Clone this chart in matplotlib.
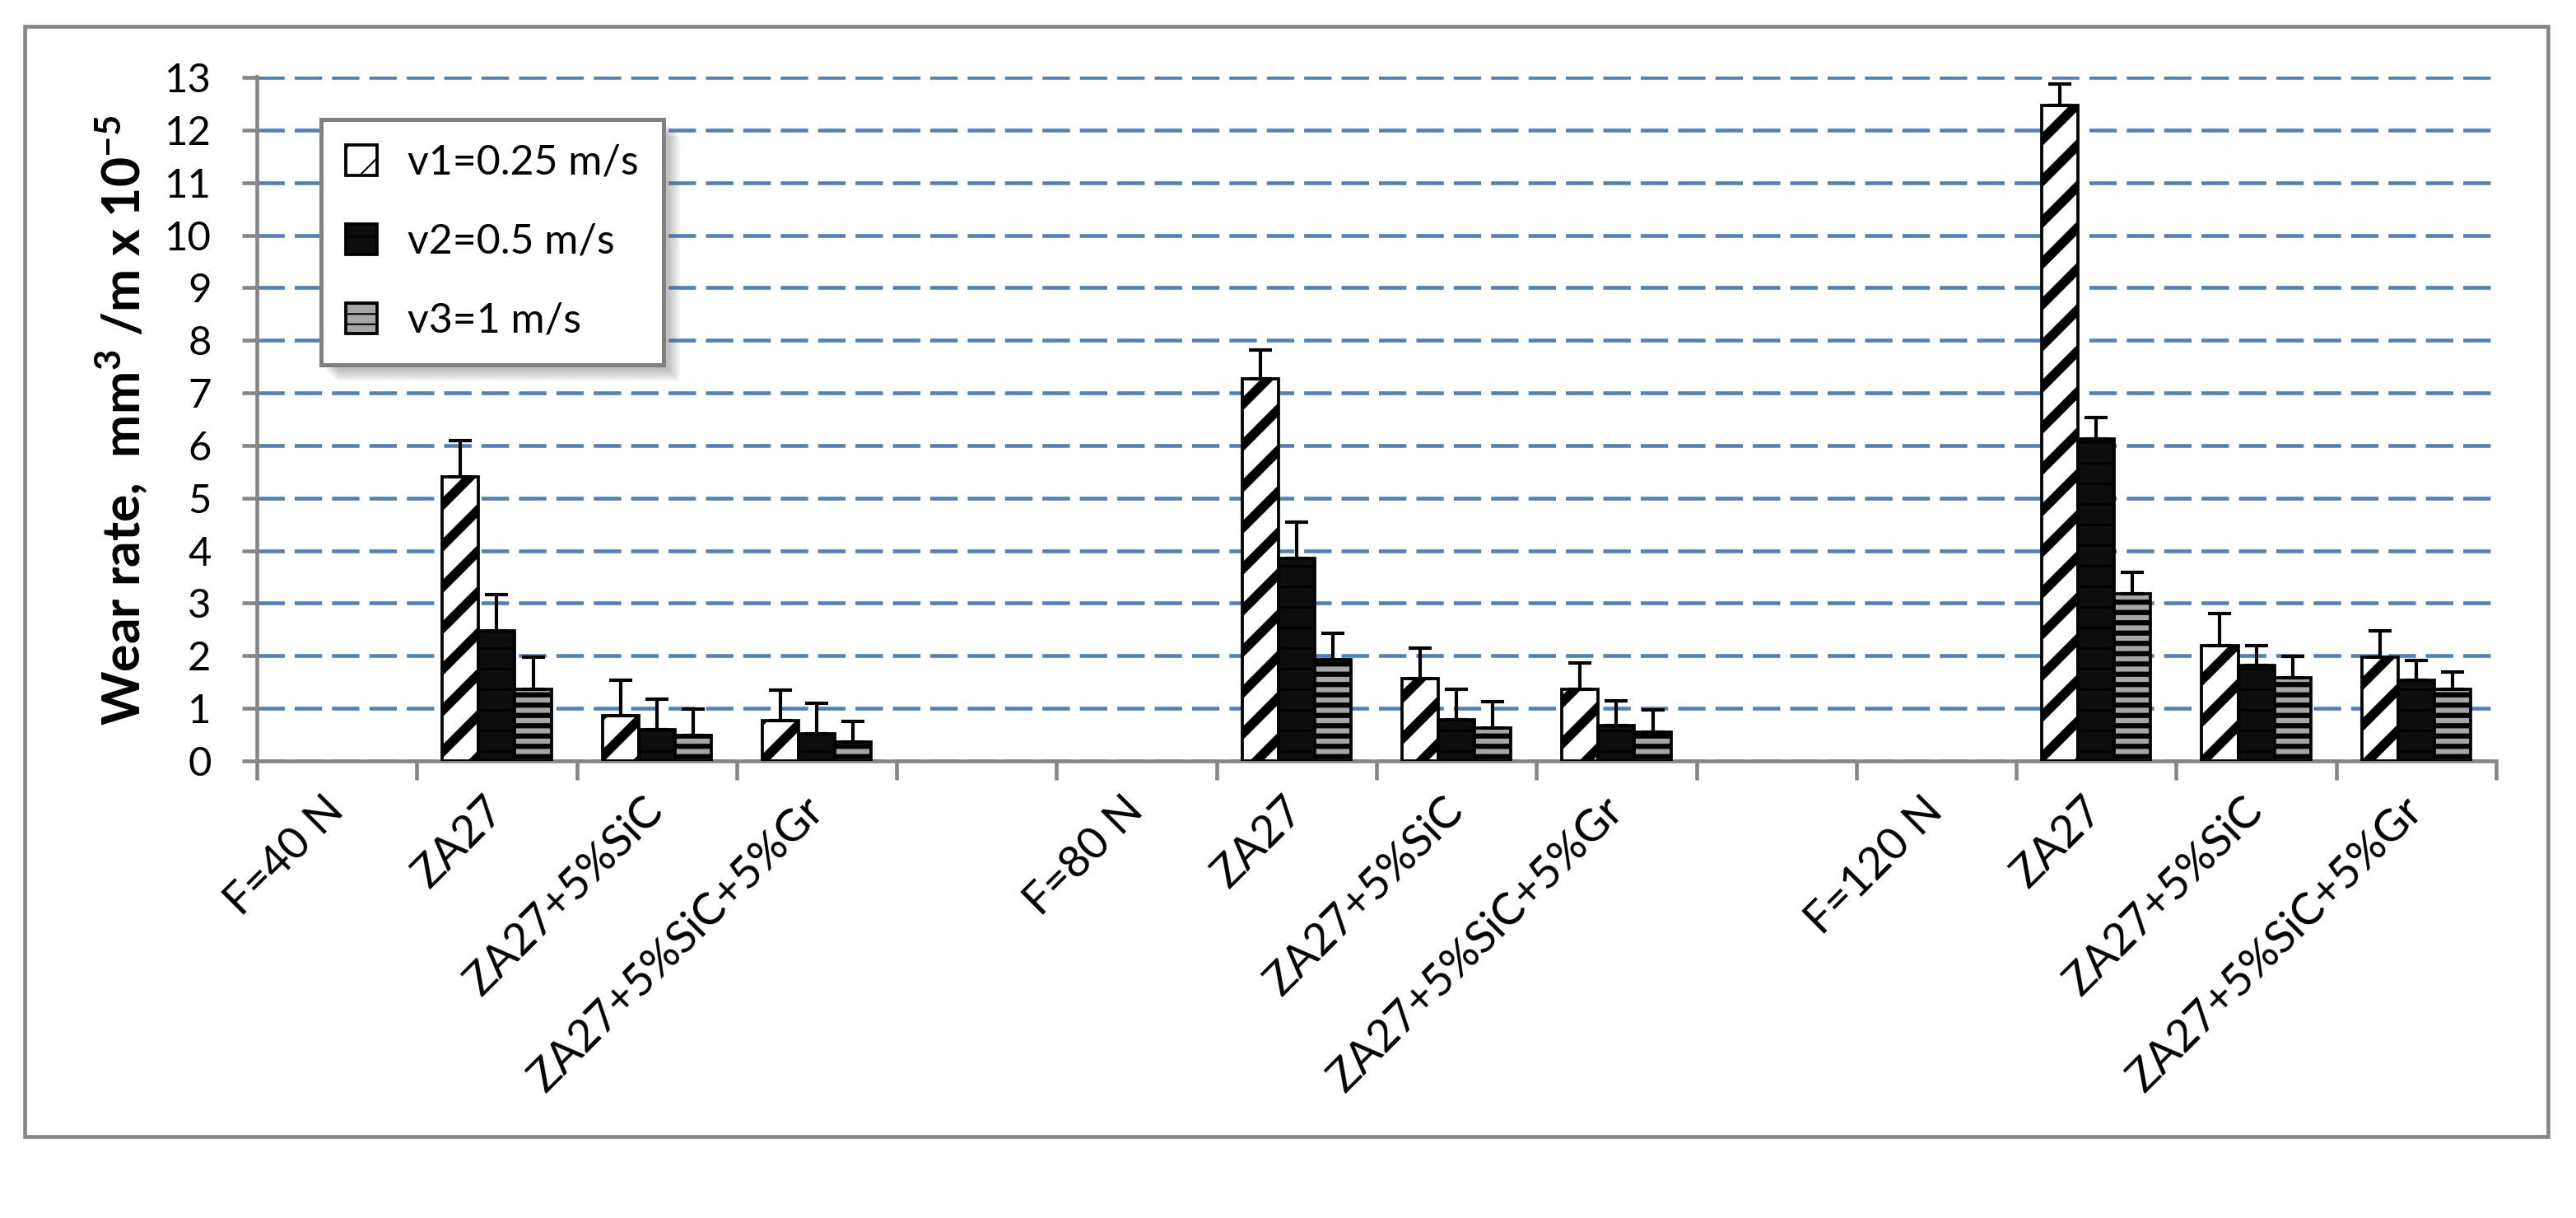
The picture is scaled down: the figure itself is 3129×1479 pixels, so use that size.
import numpy as np
import matplotlib
matplotlib.use("Agg")
import matplotlib.pyplot as plt
from matplotlib.patches import Rectangle

# Data (wear rate, mm3/m x 1e-5), order: per load -> ZA27, +SiC, +SiC+Gr
loads = ["F=40 N", "F=80 N", "F=120 N"]
materials = ["ZA27", "ZA27+5%SiC", "ZA27+5%SiC+5%Gr"]
series_names = ["v1=0.25 m/s", "v2=0.5 m/s", "v3=1 m/s"]

v1 = [5.40, 0.86, 0.76, 7.26, 1.56, 1.37, 12.47, 2.20, 1.98]
v2 = [2.47, 0.60, 0.52, 3.85, 0.79, 0.67, 6.12, 1.81, 1.54]
v3 = [1.36, 0.48, 0.36, 1.92, 0.62, 0.55, 3.18, 1.58, 1.36]

v1_err = [0.69, 0.68, 0.59, 0.56, 0.58, 0.49, 0.40, 0.61, 0.49]
v2_err = [0.69, 0.57, 0.58, 0.69, 0.58, 0.48, 0.41, 0.38, 0.37]
v3_err = [0.62, 0.51, 0.39, 0.51, 0.50, 0.42, 0.41, 0.41, 0.33]

W, H, DPI = 3129, 1479, 150
plt.rcParams['font.family'] = ['Lato', 'DejaVu Sans']
plt.rcParams['mathtext.default'] = 'regular'

fig = plt.figure(figsize=(W / DPI, H / DPI), dpi=DPI)
ax_top = (H - 94 + 0.02 * 64) / H
ax = fig.add_axes([312 / W, (H - 924) / H, (3032 - 312) / W, ax_top - (H - 924) / H])

# category slots: load label, 3 materials, empty slot
n_slots = 5 * len(loads) - 1
tick_labels = []
mat_pos = []
for g, load in enumerate(loads):
    tick_labels += [load] + materials
    mat_pos += [5 * g + 1 + k for k in range(len(materials))]
    if g < len(loads) - 1:
        tick_labels.append("")
mat_pos = np.array(mat_pos) + 0.5

bw = 0.227
styles = [
    dict(facecolor='white', hatch='/', hlw=5.5),
    dict(facecolor='#0e0e0e', hatch='-', hlw=1.2),
    dict(facecolor='#a6a6a6', hatch='--', hlw=3.0),
]
handles = []
for i, (vals, errs, st) in enumerate(zip([v1, v2, v3], [v1_err, v2_err, v3_err], styles)):
    x = mat_pos + (i - 1) * bw
    with plt.rc_context({'hatch.linewidth': st['hlw']}):
        bars = ax.bar(x, vals, width=bw, facecolor=st['facecolor'], edgecolor='black',
                      linewidth=1.8, hatch=st['hatch'], label=series_names[i], zorder=3)
    for b in bars:
        if hasattr(b, 'set_hatch_linewidth'):
            b.set_hatch_linewidth(st['hlw'])
    handles.append(bars)
    ax.errorbar(x, vals, yerr=[np.zeros(len(vals)), errs], fmt='none', ecolor='black',
                elinewidth=2, capsize=6.5, capthick=2, zorder=4)

ax.set_xlim(0, n_slots)
ax.set_ylim(0, 13.02)
ax.set_yticks(range(0, 14))
ax.set_xticks(np.arange(n_slots) + 0.5)
ax.set_xticklabels(tick_labels, rotation=45, ha='right', va='center', rotation_mode='anchor',
                   fontsize=26)
ax.set_xticks(np.arange(n_slots + 1), minor=True)
ax.tick_params(axis='x', which='major', length=0, pad=25)
ax.tick_params(axis='x', which='minor', length=11, width=2.2, color='#868686')
ax.tick_params(axis='y', length=8.6, width=2.2, color='#868686', labelsize=23.5, pad=18)

for s in ['top', 'right']:
    ax.spines[s].set_visible(False)
for s in ['left', 'bottom']:
    ax.spines[s].set_color('#868686')
    ax.spines[s].set_linewidth(2.2)

ax.set_axisbelow(True)
ax.yaxis.grid(True, color='#4f81bd', linewidth=2.2, linestyle=(0, (16 / 2.2, 5.8 / 2.2)))

fig.text(147 / W, 1 - 510 / H, r"Wear rate,  mm$^{3}$ /m x 10$^{-5}$", rotation=90,
         ha='center', va='center', fontsize=30, fontweight='bold')

leg = ax.legend(handles=handles, loc='upper left', bbox_to_anchor=(390 / W, 1 - 145 / H),
                bbox_transform=fig.transFigure, borderaxespad=0, fontsize=24,
                frameon=True, fancybox=False, edgecolor='#808080', framealpha=1,
                borderpad=0.6, labelspacing=1.0, handlelength=0.75, handleheight=0.75,
                handletextpad=0.75)
leg.get_frame().set_linewidth(2.4)
leg.set_zorder(10)

# soft shadow behind the legend
fig.canvas.draw()
bb = leg.get_frame().get_window_extent()
for k in range(8):
    off = 6 + k * 2
    ax.add_patch(Rectangle((bb.x0 + off, bb.y0 - off), bb.width, bb.height,
                           transform=None, facecolor='#606060', edgecolor='none',
                           alpha=0.06, zorder=9, clip_on=False))

# outer chart frame
fig.patches.append(Rectangle((30 / W, 1 - 1380 / H), (3095 - 30) / W, (1380 - 32) / H,
                             transform=fig.transFigure, fill=False, edgecolor='#868686',
                             linewidth=2.2))

fig.savefig("out.png", dpi=DPI, facecolor='white')
